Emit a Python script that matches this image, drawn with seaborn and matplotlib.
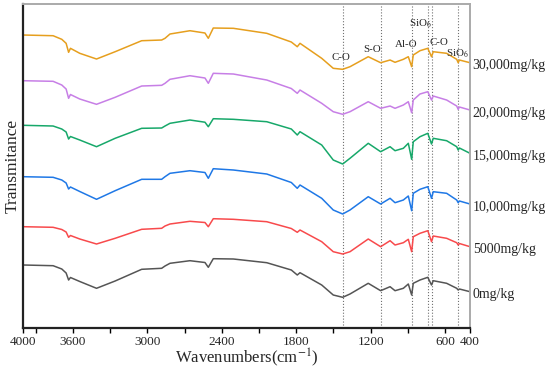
import pandas as pd
import matplotlib
matplotlib.use("Agg")
import matplotlib.pyplot as plt
import matplotlib.transforms as mtransforms
import seaborn as sns

# wavenumber grid (cm-1)
wavenumber = [4000, 3760, 3690, 3655, 3635, 3620, 3545, 3410, 3260, 3046,
              2885, 2858, 2818, 2657, 2536, 2509, 2469, 2307, 2038, 1840,
              1792, 1770, 1595, 1502, 1426, 1367, 1220, 1120, 1044, 1004,
              937, 897, 870, 857, 803, 740, 710, 696, 588, 507,
              495, 485, 400]

# transmittance (a.u., offset curves)
t_30000 = [294, 293.3, 289.7, 285.7, 276.7, 280.7, 275.7, 270, 277.3, 288.3,
           289, 290.7, 295, 298.3, 296, 290.7, 301, 300.7, 295.7, 287,
           282.3, 285.7, 270.7, 260.7, 259.7, 262.3, 272.3, 266.3, 269, 266.7,
           269.7, 272.3, 262.3, 274, 278.3, 280.7, 272.3, 277.3, 275.7, 269.7,
           266.3, 269, 266.3]
t_20000 = [248.3, 247.7, 244, 240, 230.7, 234.5, 230, 224.7, 231.7, 243,
           243.7, 245.7, 249.7, 253.3, 251, 245.7, 255.7, 255, 249, 240.5,
           235.7, 239, 225.7, 217.3, 214.7, 217.3, 227.3, 220.7, 223, 220.7,
           224, 227.3, 216.3, 229, 235, 237.3, 229, 233, 229, 223,
           219.7, 222, 219]
t_15000 = [203.7, 203, 200, 197, 190, 192.5, 189, 182.3, 190.7, 200.7,
           201, 203, 205.7, 209, 206.8, 202.3, 210.3, 209.7, 207.3, 200,
           194, 197.3, 184, 169, 165, 170.7, 185.7, 177.3, 182.3, 178.3,
           180.7, 185.7, 169.7, 187.3, 192.3, 195.7, 185, 190.7, 188.3, 182.3,
           179, 181, 175.7]
t_10000 = [152.3, 151.7, 149, 146, 140, 142, 137.5, 129.7, 138.3, 149.7,
           149.7, 152.3, 155.7, 158.3, 156.5, 150.7, 160.3, 159, 155, 146.5,
           140.7, 144, 130.7, 119, 115, 119, 132.3, 125, 130.7, 126.3,
           129, 133, 118.3, 135.7, 139.7, 142.3, 130.7, 137.3, 135.7, 129,
           126.3, 128, 125]
t_5000 = [102.3, 101.7, 99.5, 97, 91.7, 93.5, 90, 85, 90.7, 99.7,
          100.7, 103, 105, 107.7, 106.5, 102.3, 110.3, 109.7, 107.3, 100.5,
          96.7, 99, 87.3, 77.3, 75, 77.3, 90, 82.3, 88.3, 84,
          86.3, 89.7, 77.3, 92.3, 95.7, 98.3, 87.3, 93, 90.7, 86.3,
          84, 85.5, 82.3]
t_0 = [64, 63.3, 60, 56, 49, 51.5, 47.5, 40.7, 48, 59.7,
       60.7, 63, 65.7, 68.3, 66.5, 61.7, 70.3, 70, 66.3, 59,
       54, 56.3, 44, 34, 31.7, 35, 45.7, 38.3, 42.3, 38.3,
       40.7, 45, 34, 45.7, 49, 51.7, 44, 48.3, 45.7, 40.7,
       39, 40, 37.3]

concentraciones = ['30,000mg/kg', '20,000mg/kg', '15,000mg/kg',
                   '10,000mg/kg', '5000mg/kg', '0mg/kg']
series = [t_30000, t_20000, t_15000, t_10000, t_5000, t_0]
colores = ['#E69F1E', '#C77FE6', '#17A86A', '#1F78E6', '#F84A4C', '#555555']

# band assignments (dotted lines) and their labels
bandas = [1425, 1115, 868, 742, 710, 500]
etiquetas = ['C-O', 'S-O', 'Al-O', 'SiO$_6$', 'C-O', 'SiO$_6$']
etiqueta_x = [1440, 1190, 912, 803, 650, 501]
etiqueta_y = [272, 280, 285, 305, 287, 275]

filas = []
for conc, vals in zip(concentraciones, series):
    for w, t in zip(wavenumber, vals):
        filas.append({'wn': w, 'T': t, 'conc': conc})
df = pd.DataFrame(filas)

sns.set_style("white")
plt.rcParams['font.family'] = ['Liberation Serif', 'DejaVu Serif']
plt.rcParams['mathtext.fontset'] = 'stix'
plt.rcParams['lines.solid_joinstyle'] = 'round'

fig = plt.figure(figsize=(5.5, 3.69), dpi=100)
ax = fig.add_axes([0.0424, 0.1103, 0.8121, 0.878])

sns.lineplot(data=df, x='wn', y='T', hue='conc', hue_order=concentraciones,
             palette=colores, estimator=None, sort=False, legend=False,
             linewidth=1.1, ax=ax)

for b in bandas:
    ax.axvline(b, color='#707070', linestyle=':', linewidth=0.8, zorder=0)

for txt, x, y in zip(etiquetas, etiqueta_x, etiqueta_y):
    ax.text(x, y, txt, fontsize=7.8, ha='center', va='center')

trans = mtransforms.blended_transform_factory(ax.transAxes, ax.transData)
for conc, vals in zip(concentraciones, series):
    ax.text(1.006, vals[-1] - 3, conc, fontsize=10, ha='left', va='center',
            transform=trans)

ax.set_xlim(4000, 400)
ax.set_ylim(0.7, 324.7)
ax.set_xticks([4000, 3600, 3000, 2400, 1800, 1200, 600, 400])
ax.set_xticklabels(['4000', '3600', '3000', '2400', '1800', '1200', '600', '400'])
ax.set_xticks([3900, 3300, 2700, 2100, 1500, 900], minor=True)
ax.set_yticks([])
ax.tick_params(axis='x', which='both', direction='out', length=3.5, width=1,
               labelsize=9.5, pad=2, bottom=True, color='black')

for lado in ['left', 'bottom']:
    ax.spines[lado].set_color('#222222')
    ax.spines[lado].set_linewidth(1.6)
for lado in ['top', 'right']:
    ax.spines[lado].set_color('#AAAAAA')
    ax.spines[lado].set_linewidth(1.4)

ax.set_xlabel('Wavenumbers(cm$^{-1}$)', fontsize=12, labelpad=-1)
ax.set_ylabel('Transmitance', fontsize=12.5, labelpad=2)

plt.savefig('out.png', dpi=100)
